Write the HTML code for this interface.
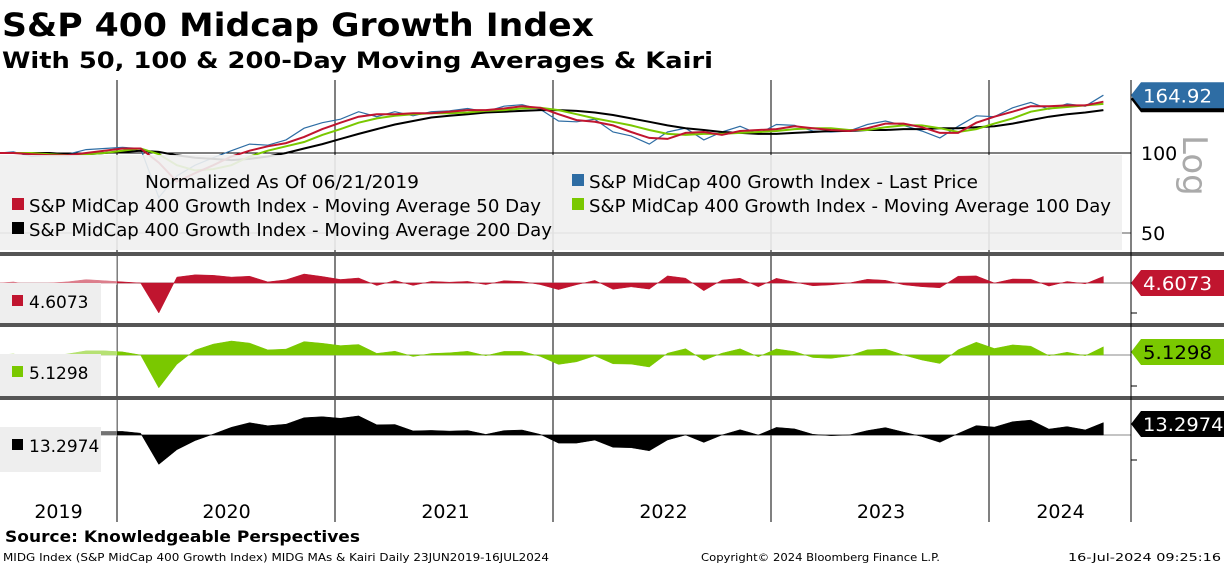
<!DOCTYPE html>
<html><head><meta charset="utf-8"><style>
body{margin:0;width:1224px;height:566px;background:#fff;overflow:hidden;font-family:"DejaVu Sans",sans-serif}
svg{position:absolute;left:0;top:0}
</style></head><body>
<svg width="1224" height="566" font-family="DejaVu Sans, sans-serif">
<text x="2" y="36" font-size="32" font-weight="bold" textLength="592" lengthAdjust="spacingAndGlyphs">S&amp;P 400 Midcap Growth Index</text>
<text x="2" y="68" font-size="22" font-weight="bold" textLength="711" lengthAdjust="spacingAndGlyphs">With 50, 100 &amp; 200-Day Moving Averages &amp; Kairi</text>
<g id="grid"></g>
<g id="main"></g>
<rect x="0" y="155" width="1122" height="95" fill="#f0f0f0" opacity="0.9"/>
<g id="kairi"></g>
<g font-size="18">
<text x="145" y="188" textLength="274" lengthAdjust="spacingAndGlyphs">Normalized As Of 06/21/2019</text>
<rect x="12" y="198" width="12" height="12" fill="#c0152f"/><text x="29" y="212" textLength="512" lengthAdjust="spacingAndGlyphs">S&amp;P MidCap 400 Growth Index - Moving Average 50 Day</text>
<rect x="12" y="222" width="12" height="12" fill="#000"/><text x="29" y="236" textLength="523" lengthAdjust="spacingAndGlyphs">S&amp;P MidCap 400 Growth Index - Moving Average 200 Day</text>
<rect x="572" y="174" width="12" height="12" fill="#2e6da4"/><text x="589" y="188" textLength="389" lengthAdjust="spacingAndGlyphs">S&amp;P MidCap 400 Growth Index - Last Price</text>
<rect x="572" y="198" width="12" height="12" fill="#7ac800"/><text x="589" y="212" textLength="522" lengthAdjust="spacingAndGlyphs">S&amp;P MidCap 400 Growth Index - Moving Average 100 Day</text>
</g>
<g id="axes"></g>
<text x="5" y="542" font-size="16" font-weight="bold" textLength="355" lengthAdjust="spacingAndGlyphs">Source: Knowledgeable Perspectives</text>
<text x="3" y="561" font-size="11" textLength="546" lengthAdjust="spacingAndGlyphs">MIDG Index (S&amp;P MidCap 400 Growth Index) MIDG MAs &amp; Kairi  Daily 23JUN2019-16JUL2024</text>
<text x="701" y="561" font-size="11" textLength="239" lengthAdjust="spacingAndGlyphs">Copyright© 2024 Bloomberg Finance L.P.</text>
<text x="1068" y="561" font-size="11" textLength="153" lengthAdjust="spacingAndGlyphs">16-Jul-2024 09:25:16</text>
</svg>
<script>
const price=[100,101,97,98,99,103,104, 105,104,68,82,90,96,102,108,107,112,124,130, 134,143,137,143,138,143,144,147,143,150,152,146, 132,131,134,120,116,108,120,124,112,120,126,118, 128,127,121,120,121,128,132,127,121,114,126,138, 137,148,155,146,153,150,165];
const ma50=[100,100,99,98,98,100,102, 104,104,92,78,84,90,97,102,106,109,115,123, 130,137,140,140,141,141,143,145,145,147,150,148, 140,133,131,127,120,114,113,119,120,117,121,122, 123,126,124,122,121,124,129,129,125,119,119,130, 137,143,150,150,151,151,156];
const ma100=[100,100,100,99,98,99,100, 102,104,99,90,86,87,90,97,102,106,110,117, 123,130,135,138,140,141,141,142,144,145,147,148, 145,140,135,131,127,122,118,117,118,118,119,120, 121,123,124,124,122,122,125,127,127,124,120,123, 129,135,143,147,149,151,153];
const ma200=[100,100,100,100,99,99,100, 101,102,101,98,96,95,94,95,97,100,104,108, 113,118,123,128,132,136,138,140,142,143,144,145, 145,144,142,139,135,131,127,124,122,120,119,118, 118,119,120,121,121,122,122,123,123,124,124,125, 126,129,133,137,140,142,145];
const years=["2019","2020","2021","2022","2023","2024"];
const yearGrid=[7,19,31,43,55];
const priceTicks=[100,50];
const lastLabels=["164.92","4.6073","5.1298","13.2974"];
const NS="http://www.w3.org/2000/svg";
function mk(t,a,p){const e=document.createElementNS(NS,t);for(const k in a)e.setAttribute(k,a[k]);p.appendChild(e);return e;}
const X=i=>117+(i-6.7)*218/12;
const Y=v=>153-80*Math.log2(v/100);
const grid=document.getElementById('grid'),main=document.getElementById('main'),kg=document.getElementById('kairi'),ax=document.getElementById('axes');
yearGrid.forEach(m=>{const l=mk('line',{x1:X(m-0.3),x2:X(m-0.3),y1:80,y2:522,stroke:'#000','stroke-width':1},grid);

});
priceTicks.forEach(v=>{const l=mk('line',{x1:0,x2:1131,y1:Y(v),y2:Y(v),stroke:v==100?'#000':'#555','stroke-width':1},grid);

});
function line(arr,col,w,name){const d=arr.map((v,i)=>(i?'L':'M')+Math.max(0,X(i)).toFixed(1)+','+Y(v).toFixed(1)).join('');
const p=mk('path',{d:d,fill:'none',stroke:col,'stroke-width':w},main);

}
line(price,'#2e6da4',1.2,'price-line');
line(ma200,'#000',2,'ma200-line');
line(ma100,'#7ac800',2,'ma100-line');
line(ma50,'#c0152f',2,'ma50-line');
const panels=[{ma:ma50,col:'#c0152f',top:256,bot:323,zero:283,s:1.15,lab:lastLabels[1],ly:283,txt:'#fff'},
{ma:ma100,col:'#7ac800',top:327,bot:396,zero:355,s:1.05,lab:lastLabels[2],ly:352,txt:'#000'},
{ma:ma200,col:'#000',top:400,bot:470,zero:435,s:0.9,lab:lastLabels[3],ly:424,txt:'#fff'}];
panels.forEach((P,pi)=>{
 const l=mk('line',{x1:0,x2:1131,y1:P.zero,y2:P.zero,stroke:'#888','stroke-width':1},kg);
 
 
 let d='M0,'+P.zero;
 price.forEach((v,i)=>{const k=(v/P.ma[i]-1)*100;const y=Math.max(P.top,Math.min(P.bot,P.zero-k*P.s));d+='L'+Math.max(0,X(i)).toFixed(1)+','+y.toFixed(1);});
 d+='L'+X(price.length-1).toFixed(1)+','+P.zero+'Z';
 const a=mk('path',{d:d,fill:P.col,stroke:P.col,'stroke-width':0.5},kg);
 
 
 mk('rect',{x:0,y:P.top,width:117,height:P.zero-P.top+2,fill:'#fff',opacity:0.45},kg);
 const b=mk('rect',{x:0,y:P.top+27,width:101,height:P.bot-P.top-25,fill:'#eee'},kg);
 
 
 mk('rect',{x:12,y:P.top+39,width:11,height:11,fill:P.col},kg);
 const t=mk('text',{x:29,y:P.top+52,'font-size':17},kg);t.textContent=P.lab;
 
 
 const g=mk('path',{d:`M1131,${P.ly}l10,-13h83v26h-83z`,fill:P.col},ax);
 
 
 const tt=mk('text',{x:1143,y:P.ly+7,'font-size':19,fill:P.txt,textLength:P.lab.length*11.5,lengthAdjust:'spacingAndGlyphs'},ax);tt.textContent=P.lab;
 
 
 mk('line',{x1:1131,x2:1137,y1:P.bot-10,y2:P.bot-10,stroke:'#000'},ax);
});
[252,323,396].forEach(y=>{const r=mk('rect',{x:0,y:y,width:1224,height:4,fill:'#555'},ax);

});
const ra=mk('line',{x1:1131,x2:1131,y1:80,y2:522,stroke:'#000'},ax);


priceTicks.forEach(v=>{const t=mk('text',{x:1141,y:Y(v)+7,'font-size':19},ax);t.textContent=String(v);

});
const lv=parseFloat(lastLabels[0]);
mk('path',{d:`M1131,${Y(lv)+4}l10,-13h83v26h-83z`,fill:'#000'},ax);
const pt=mk('path',{d:`M1131,${Y(lv)}l10,-13h83v26h-83z`,fill:'#2e6da4'},ax);


const ptt=mk('text',{x:1143,y:Y(lv)+7,'font-size':19,fill:'#fff',textLength:69,lengthAdjust:'spacingAndGlyphs'},ax);ptt.textContent=lastLabels[0];


const lg=mk('text',{x:1183,y:135,'font-size':34,fill:'#aaa',transform:'rotate(90 1183 135)'},ax);lg.textContent='Log';


const bx=[0,117,336,555,772,990,1131];
years.forEach((yr,i)=>{const t=mk('text',{x:(bx[i]+bx[i+1])/2,y:518,'font-size':19,'text-anchor':'middle'},ax);t.textContent=yr;

});
</script>
</body></html>
